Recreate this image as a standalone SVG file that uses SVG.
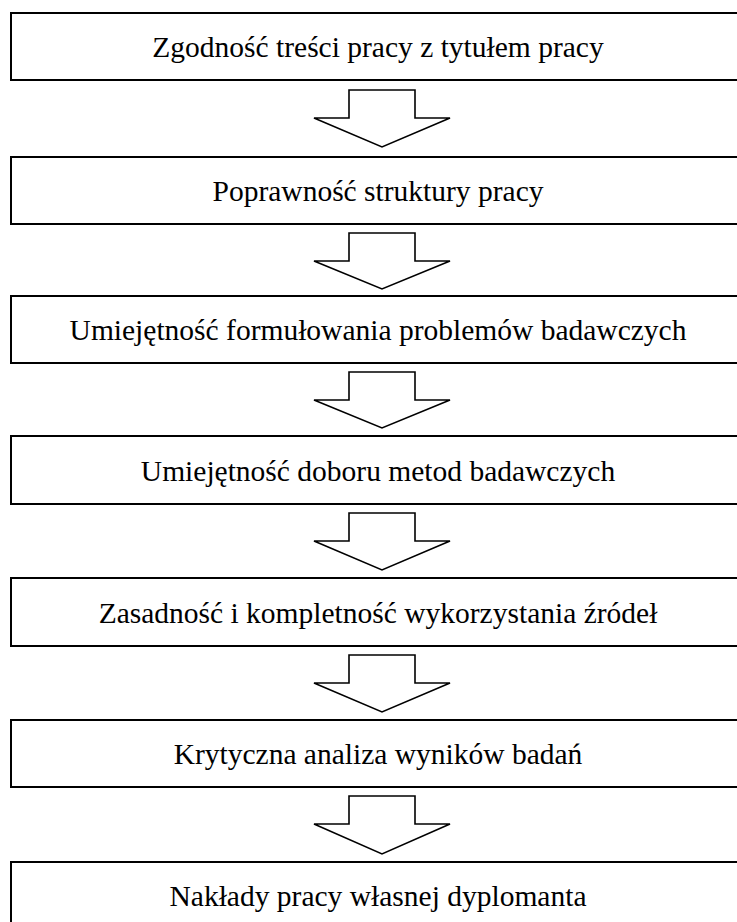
<svg xmlns="http://www.w3.org/2000/svg" width="737" height="922" viewBox="0 0 737 922">
<style>
.box{fill:#fff;stroke:#000;stroke-width:2}
.lbl{font-family:'Liberation Serif','Times New Roman','DejaVu Serif',serif;font-size:29.5px;fill:#000;text-anchor:middle}
.arr{fill:#fff;stroke:#000;stroke-width:1.6;stroke-linejoin:miter}
</style>
<rect width="737" height="922" fill="#fff"/>
<g id="connectors">
<path class="arr" d="M349,90 H415 V118 H450 L382,147 L314,118 H349 Z"/>
<path class="arr" d="M349,233 H415 V261 H450 L382,289 L314,261 H349 Z"/>
<path class="arr" d="M349,372 H415 V400 H450 L382,428 L314,400 H349 Z"/>
<path class="arr" d="M349,513 H415 V541 H450 L382,570 L314,541 H349 Z"/>
<path class="arr" d="M349,655 H415 V683 H450 L382,712 L314,683 H349 Z"/>
<path class="arr" d="M349,796 H415 V824 H450 L382,854 L314,824 H349 Z"/>
</g>
<g id="n1"><rect class="box" x="11" y="13" width="740" height="67"/><text class="lbl" x="378" y="57">Zgodność treści pracy z tytułem pracy</text></g>
<g id="n2"><rect class="box" x="11" y="157" width="740" height="67"/><text class="lbl" x="378" y="201">Poprawność struktury pracy</text></g>
<g id="n3"><rect class="box" x="11" y="296" width="740" height="67"/><text class="lbl" x="378" y="340">Umiejętność formułowania problemów badawczych</text></g>
<g id="n4"><rect class="box" x="11" y="436" width="740" height="68"/><text class="lbl" x="378" y="481">Umiejętność doboru metod badawczych</text></g>
<g id="n5"><rect class="box" x="11" y="578" width="740" height="68"/><text class="lbl" x="378" y="623">Zasadność i kompletność wykorzystania źródeł</text></g>
<g id="n6"><rect class="box" x="11" y="720" width="740" height="67"/><text class="lbl" x="378" y="764">Krytyczna analiza wyników badań</text></g>
<g id="n7"><rect class="box" x="11" y="862" width="740" height="80"/><text class="lbl" x="378" y="906">Nakłady pracy własnej dyplomanta</text></g>
</svg>
